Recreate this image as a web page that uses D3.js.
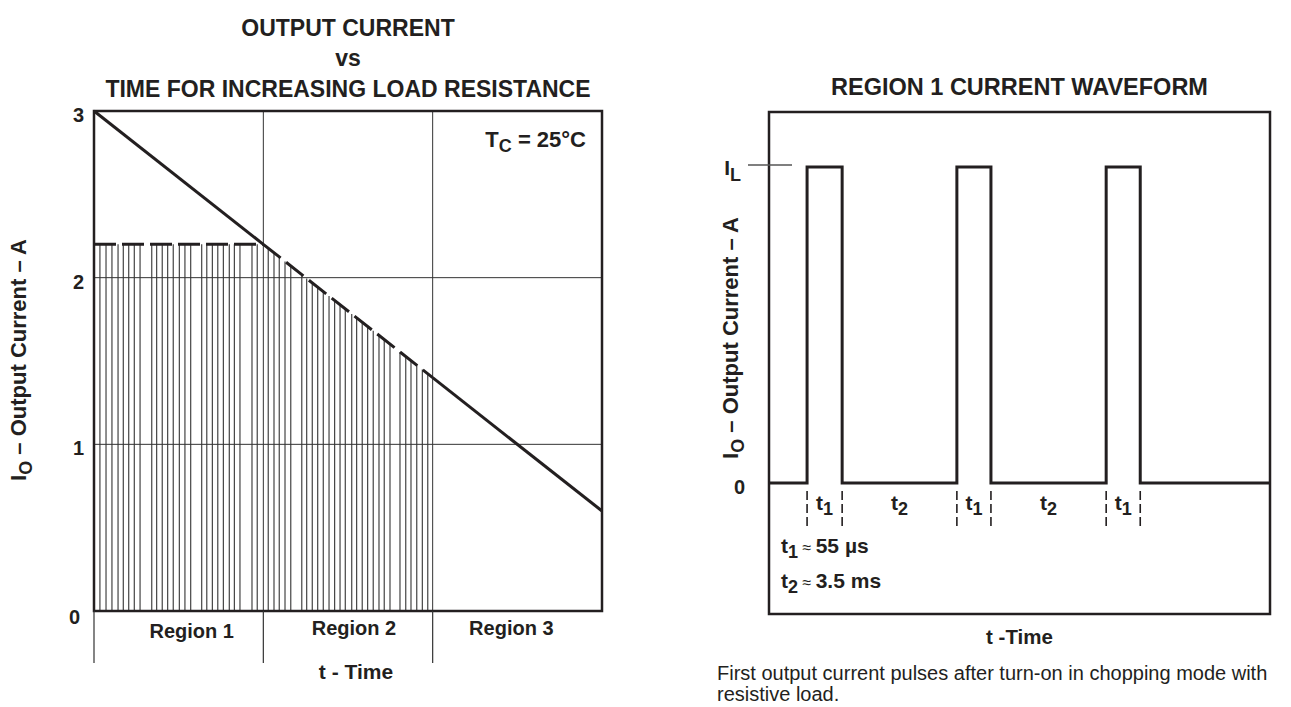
<!DOCTYPE html>
<html>
<head>
<meta charset="utf-8">
<script src="https://cdn.jsdelivr.net/npm/d3@7"></script>
<style>
  html, body { margin: 0; padding: 0; background: #fff; }
  svg { display: block; }
  text { font-family: "Liberation Sans", Arial, Helvetica, sans-serif; fill: #231f20; }
  .b { font-weight: bold; }
</style>
</head>
<body>
<svg id="chart" width="1291" height="707"></svg>
<script>
// ---------------- DATA ----------------
// Left chart: output current vs time (time in "region" units 0..3)
const leftTitle = ["OUTPUT CURRENT", "vs", "TIME FOR INCREASING LOAD RESISTANCE"];
const leftYTicks = [0, 1, 2, 3];
const regionNames = ["Region 1", "Region 2", "Region 3"];
const regionBounds = [0, 1, 2, 3];
const currentT = [0, 1, 2, 3];          // time points of current envelope
const currentI = [3, 2.2, 1.4, 0.6];    // current (A) at those points
const holdCurrent = 2.2;                // region‑1 limited (chopped) current
// chopping pulse lines (time units) in region 1 and region 2
const hatchRegion1 = [0.035, 0.071, 0.106, 0.142, 0.173, 0.205, 0.238, 0.272,
  0.341, 0.370, 0.403, 0.435, 0.468, 0.504, 0.537, 0.571,
  0.636, 0.666, 0.699, 0.731, 0.764, 0.799, 0.829, 0.862,
  0.933, 0.964];
const hatchRegion2 = [1.029, 1.063, 1.094, 1.128, 1.162,
  1.227, 1.256, 1.289, 1.321, 1.354, 1.388, 1.421, 1.453, 1.484,
  1.522, 1.551, 1.584, 1.616, 1.649, 1.683, 1.714, 1.748,
  1.807, 1.841, 1.872, 1.906, 1.939, 1.971];

// Right chart: region 1 current waveform
const rightTitle = "REGION 1 CURRENT WAVEFORM";
const pulseEdges = [0.76, 1.46, 3.75, 4.43, 6.73, 7.41]; // rise/fall times
const pulseLevel = 1;    // I_L (normalised)
const timeSpan = [0, 10];
const intervalNames = ["1", "2", "1", "2", "1"];          // t1, t2, t1, t2, t1
const noteT1 = "55 \u00B5s";
const noteT2 = "3.5 ms";
const caption = ["First output current pulses after turn-on in chopping mode with", "resistive load."];

// ---------------- DRAW ----------------
const svg = d3.select("#chart");
const ink = "#231f20";

// ===== LEFT CHART =====
const L = { x0: 94, x1: 602, y0: 111, y1: 611 };
const xL = d3.scaleLinear().domain([0, 3]).range([L.x0, L.x1]);
const yL = d3.scaleLinear().domain([0, 3]).range([L.y1, L.y0]);
const envelope = d3.scaleLinear().domain(currentT).range(currentI);

const gL = svg.append("g");

// title
gL.selectAll("text.title").data(leftTitle).join("text")
  .attr("class", "b title")
  .attr("x", (L.x0 + L.x1) / 2)
  .attr("y", (d, i) => [36, 66, 97][i])
  .attr("text-anchor", "middle")
  .style("font-size", "23px")
  .text(d => d);

// hatch (chopping pulses)
gL.append("g").selectAll("line").data(hatchRegion1).join("line")
  .attr("x1", d => xL(d)).attr("x2", d => xL(d))
  .attr("y1", yL(0)).attr("y2", yL(holdCurrent))
  .attr("stroke", "#444").attr("stroke-width", 1.2);
gL.append("g").selectAll("line").data(hatchRegion2).join("line")
  .attr("x1", d => xL(d)).attr("x2", d => xL(d))
  .attr("y1", yL(0)).attr("y2", d => yL(envelope(d)))
  .attr("stroke", "#444").attr("stroke-width", 1.2);

// grid
gL.append("g").selectAll("line").data(leftYTicks.filter(v => v > 0 && v < 3)).join("line")
  .attr("x1", L.x0).attr("x2", L.x1)
  .attr("y1", d => yL(d)).attr("y2", d => yL(d))
  .attr("stroke", "#333").attr("stroke-width", 1);
gL.append("g").selectAll("line").data(regionBounds.filter(v => v > 0 && v < 3)).join("line")
  .attr("x1", d => xL(d)).attr("x2", d => xL(d))
  .attr("y1", L.y0).attr("y2", L.y1)
  .attr("stroke", "#333").attr("stroke-width", 1);

// frame
gL.append("rect").attr("x", L.x0).attr("y", L.y0)
  .attr("width", L.x1 - L.x0).attr("height", L.y1 - L.y0)
  .attr("fill", "none").attr("stroke", ink).attr("stroke-width", 2.5);

// region boundary ticks below axis
gL.append("g").selectAll("line").data(regionBounds.slice(0, 3)).join("line")
  .attr("x1", d => xL(d)).attr("x2", d => xL(d))
  .attr("y1", L.y1).attr("y2", L.y1 + 52)
  .attr("stroke", "#333").attr("stroke-width", 1.2);

// hold level dashed
gL.append("line")
  .attr("x1", xL(0)).attr("x2", xL(1))
  .attr("y1", yL(holdCurrent)).attr("y2", yL(holdCurrent))
  .attr("stroke", ink).attr("stroke-width", 3).attr("stroke-dasharray", "22,6");

// current envelope: solid, dashed, solid
const pts = currentT.map((t, i) => [t, currentI[i]]);
const lineL = d3.line().x(d => xL(d[0])).y(d => yL(d[1]));
[[0, 1, null], [1, 2, "22,7"], [2, 3, null]].forEach(([a, b, dash]) => {
  gL.append("path").datum([pts[a], pts[b]])
    .attr("d", lineL).attr("fill", "none")
    .attr("stroke", ink).attr("stroke-width", 3)
    .attr("stroke-dasharray", dash);
});

// y tick labels
gL.selectAll("text.yt").data(leftYTicks).join("text")
  .attr("class", "b yt")
  .attr("x", d => d === 0 ? 80 : 84)
  .attr("y", d => yL(d) + (d === 0 ? 13 : 11))
  .attr("text-anchor", "end")
  .style("font-size", "20px")
  .text(d => d);

// y axis label
const yLab = gL.append("text").attr("class", "b")
  .attr("transform", "translate(26,360) rotate(-90)")
  .attr("text-anchor", "middle").style("font-size", "22px");
yLab.append("tspan").text("I");
yLab.append("tspan").attr("dy", 6).style("font-size", "18px").text("O");
yLab.append("tspan").attr("dy", -6).text(" \u2013 Output Current \u2013 A");

// region labels
gL.selectAll("text.rg").data(regionNames).join("text")
  .attr("class", "b rg")
  .attr("x", (d, i) => xL(i + 0.5) + [13, 6, -6][i])
  .attr("y", (d, i) => L.y1 + (i === 0 ? 27 : 24))
  .attr("text-anchor", "middle")
  .style("font-size", "20px")
  .text(d => d);

// x axis title
gL.append("text").attr("class", "b")
  .attr("x", (L.x0 + L.x1) / 2 + 8).attr("y", 679)
  .attr("text-anchor", "middle").style("font-size", "21px")
  .text("t - Time");

// T_C annotation
const tc = gL.append("text").attr("class", "b")
  .attr("x", 586).attr("y", 147).attr("text-anchor", "end")
  .style("font-size", "22px");
tc.append("tspan").text("T");
tc.append("tspan").attr("dy", 5).style("font-size", "18px").text("C");
tc.append("tspan").attr("dy", -5).text(" = 25\u00B0C");

// ===== RIGHT CHART =====
const R = { x0: 769, x1: 1270, y0: 112, y1: 614 };
const xR = d3.scaleLinear().domain(timeSpan).range([R.x0, R.x1]);
const yR = d3.scaleLinear().domain([0, pulseLevel]).range([483, 167]);
const gR = svg.append("g");

gR.append("text").attr("class", "b")
  .attr("x", (R.x0 + R.x1) / 2).attr("y", 95)
  .attr("text-anchor", "middle").style("font-size", "23.5px")
  .text(rightTitle);

gR.append("rect").attr("x", R.x0).attr("y", R.y0)
  .attr("width", R.x1 - R.x0).attr("height", R.y1 - R.y0)
  .attr("fill", "none").attr("stroke", ink).attr("stroke-width", 2.5);

// waveform
const wave = [[timeSpan[0], 0]];
pulseEdges.forEach((e, i) => {
  const rising = i % 2 === 0;
  wave.push([e, rising ? 0 : pulseLevel]);
  wave.push([e, rising ? pulseLevel : 0]);
});
wave.push([timeSpan[1], 0]);
gR.append("path").datum(wave)
  .attr("d", d3.line().x(d => xR(d[0])).y(d => yR(d[1])))
  .attr("fill", "none").attr("stroke", ink).attr("stroke-width", 3)
  .attr("stroke-linejoin", "miter");

// I_L tick
gR.append("line")
  .attr("x1", R.x0 - 21).attr("x2", R.x0 + 23)
  .attr("y1", yR(pulseLevel) - 2).attr("y2", yR(pulseLevel) - 2)
  .attr("stroke", "#555").attr("stroke-width", 1.5);
const il = gR.append("text").attr("class", "b")
  .attr("x", 741).attr("y", yR(pulseLevel) + 8).attr("text-anchor", "end")
  .style("font-size", "21px");
il.append("tspan").text("I");
il.append("tspan").attr("dy", 6).style("font-size", "18px").text("L");

gR.append("text").attr("class", "b")
  .attr("x", 745).attr("y", yR(0) + 11).attr("text-anchor", "end")
  .style("font-size", "20px").text("0");

// y label
const yLabR = gR.append("text").attr("class", "b")
  .attr("transform", "translate(738,338) rotate(-90)")
  .attr("text-anchor", "middle").style("font-size", "22px");
yLabR.append("tspan").text("I");
yLabR.append("tspan").attr("dy", 6).style("font-size", "18px").text("O");
yLabR.append("tspan").attr("dy", -6).text(" \u2013 Output Current \u2013 A");

// dashed edge markers
gR.append("g").selectAll("line").data(pulseEdges).join("line")
  .attr("x1", d => xR(d)).attr("x2", d => xR(d))
  .attr("y1", yR(0) + 8).attr("y2", yR(0) + 44)
  .attr("stroke", ink).attr("stroke-width", 1.6)
  .attr("stroke-dasharray", "9,4");

// interval labels
const iv = gR.selectAll("text.iv").data(intervalNames).join("text")
  .attr("class", "b iv")
  .attr("x", (d, i) => xR((pulseEdges[i] + pulseEdges[i + 1]) / 2))
  .attr("y", yR(0) + 27)
  .attr("text-anchor", "middle")
  .style("font-size", "21px");
iv.append("tspan").text("t");
iv.append("tspan").attr("dy", 5).style("font-size", "18px").text(d => d);

// notes
function note(y, sub, val) {
  const t = gR.append("text").attr("class", "b")
    .attr("x", 781).attr("y", y).style("font-size", "21px");
  t.append("tspan").text("t");
  t.append("tspan").attr("dy", 5).style("font-size", "18px").text(sub);
  t.append("tspan").attr("dy", -5).style("font-weight", "normal").style("font-size", "16px").text(" \u2248 ");
  t.append("tspan").text(val);
}
note(553, "1", " " + noteT1);
note(588, "2", noteT2);

gR.append("text").attr("class", "b")
  .attr("x", (R.x0 + R.x1) / 2).attr("y", 644)
  .attr("text-anchor", "middle").style("font-size", "20.5px")
  .text("t -Time");

gR.selectAll("text.cap").data(caption).join("text")
  .attr("class", "cap")
  .attr("x", 717).attr("y", (d, i) => 680 + i * 21)
  .style("font-size", "20px")
  .text(d => d);
</script>
</body>
</html>
